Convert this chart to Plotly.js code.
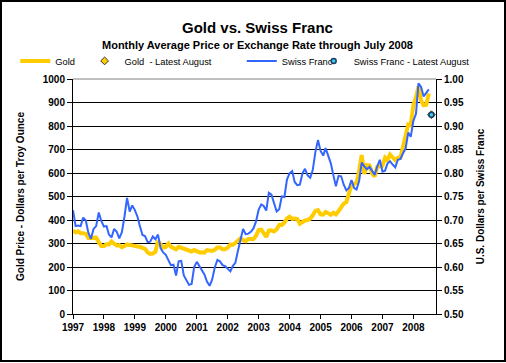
<!DOCTYPE html>
<html>
<head>
<meta charset="utf-8">
<script src="https://cdn.plot.ly/plotly-3.0.1.min.js"></script>
<style>
html,body{margin:0;padding:0;background:#fff;}
#wrap{position:relative;width:506px;height:363px;}
#chart{width:506px;height:363px;}
#frame{position:absolute;left:0;top:0;width:506px;height:362px;box-sizing:border-box;border:2px solid #000;pointer-events:none;}
</style>
</head>
<body>
<div id="wrap"><div id="chart"></div><div id="frame"></div></div>
<script>
// Monthly average gold price, USD per troy ounce, Jan 1997 - Jul 2008
const gold1997 = [355,347,352,344,344,341,324,324,323,325,306,289];
const gold1998 = [289,297,296,308,299,292,293,284,289,296,294,291];
const gold1999 = [287,287,286,282,277,262,256,257,265,311,293,283];
const gold2000 = [285,300,286,280,275,286,282,275,273,270,266,272];
const gold2001 = [266,262,263,261,272,270,268,273,283,283,276,276];
const gold2002 = [282,296,294,302,314,322,314,310,319,317,319,333];
const gold2003 = [357,359,341,328,355,356,351,360,379,379,389,407];
const gold2004 = [414,405,406,404,384,392,398,400,406,420,439,442];
const gold2005 = [424,423,434,429,422,431,424,438,457,470,476,510];
const gold2006 = [549,555,557,610,676,596,633,632,598,585,627,629];
const gold2007 = [631,665,655,679,667,655,665,665,712,754,806,803];
const gold2008 = [889,922,968,909,888,890,939];

// Monthly average exchange rate, USD per Swiss franc
const chf1997 = [0.721,0.687,0.688,0.687,0.705,0.699,0.673,0.660,0.681,0.687,0.716,0.698];
const chf1998 = [0.686,0.687,0.669,0.663,0.681,0.675,0.661,0.674,0.708,0.747,0.718,0.731];
const chf1999 = [0.721,0.707,0.687,0.668,0.666,0.653,0.654,0.665,0.659,0.669,0.640,0.631];
const chf2000 = [0.626,0.614,0.604,0.605,0.582,0.612,0.613,0.582,0.570,0.562,0.564,0.600];
const chf2001 = [0.611,0.602,0.594,0.584,0.569,0.560,0.573,0.599,0.615,0.612,0.604,0.602];
const chf2002 = [0.596,0.591,0.602,0.609,0.634,0.656,0.681,0.670,0.671,0.675,0.682,0.697];
const chf2003 = [0.722,0.733,0.730,0.720,0.758,0.754,0.734,0.718,0.723,0.750,0.749,0.786];
const chf2004 = [0.799,0.804,0.781,0.774,0.775,0.799,0.809,0.795,0.790,0.807,0.845,0.870];
const chf2005 = [0.847,0.837,0.853,0.835,0.821,0.795,0.772,0.794,0.793,0.775,0.763,0.768];
const chf2006 = [0.785,0.768,0.765,0.783,0.822,0.814,0.808,0.813,0.803,0.796,0.814,0.828];
const chf2007 = [0.803,0.805,0.820,0.825,0.818,0.812,0.828,0.830,0.842,0.852,0.886,0.877];
const chf2008 = [0.911,0.926,0.991,0.983,0.963,0.970,0.978];

// Latest August 2008 values
const latestDate = ['2008-08-01'];
const goldLatest = [848];
const chfLatest = [0.924];

const firstYear = 1997;

const gold = [].concat(gold1997,gold1998,gold1999,gold2000,gold2001,gold2002,gold2003,gold2004,gold2005,gold2006,gold2007,gold2008);
const chf = [].concat(chf1997,chf1998,chf1999,chf2000,chf2001,chf2002,chf2003,chf2004,chf2005,chf2006,chf2007,chf2008);
const months = gold.map((v,i)=>{
  const y = firstYear + Math.floor(i/12);
  const m = (i%12)+1;
  return y + '-' + (m<10?'0':'') + m + '-01';
});

const FONT = 'Liberation Sans, Arial, sans-serif';

const traces = [
  {x: months, y: gold, type:'scatter', mode:'lines', name:'Gold',
   line:{color:'#FFCC00', width:4}, yaxis:'y', legend:'legend', hoverinfo:'skip'},
  {x: latestDate, y: goldLatest, type:'scatter', mode:'markers', name:'Gold  - Latest August',
   marker:{symbol:'diamond', size:6, color:'#FFCC00', line:{color:'#333333', width:1}},
   yaxis:'y', legend:'legend2', hoverinfo:'skip'},
  {x: months, y: chf, type:'scatter', mode:'lines', name:'Swiss Franc',
   line:{color:'#3366FF', width:2}, yaxis:'y2', legend:'legend3', hoverinfo:'skip'},
  {x: latestDate, y: chfLatest, type:'scatter', mode:'markers', name:'Swiss Franc - Latest August',
   marker:{symbol:'circle', size:5, color:'#33CCFF', line:{color:'#1F3F5F', width:1.5}},
   yaxis:'y2', legend:'legend4', hoverinfo:'skip'}
];

const legFont = {family: FONT, size: 9.3, color:'#000'};
const legBase = {orientation:'h', yref:'paper', y:1.077, yanchor:'middle', xanchor:'left',
  bgcolor:'rgba(0,0,0,0)', borderwidth:0, font:legFont, itemwidth:30, tracegroupgap:0};

const layout = {
  width:506, height:363,
  margin:{l:73, r:70, t:79, b:49, pad:0},
  paper_bgcolor:'#fff', plot_bgcolor:'#fff',
  showlegend:true,
  font:{family:FONT, color:'#000'},
  xaxis:{type:'date', range:['1997-01-01','2008-09-24'], tick0:'1997-01-01', dtick:'M12',
    tickformat:'%Y', ticks:'outside', ticklen:4, tickcolor:'#000', tickwidth:1,
    showline:true, linecolor:'#000', linewidth:1, showgrid:false, zeroline:false,
    tickfont:{family:FONT, size:10, weight:'bold', color:'#000'}, fixedrange:true},
  yaxis:{range:[0,1000], dtick:100, ticks:'outside', ticklen:5, tickcolor:'#000',
    showline:true, linecolor:'#000', linewidth:1, showgrid:true, gridcolor:'#000', gridwidth:1,
    zeroline:false, tickfont:{family:FONT, size:10, weight:'bold', color:'#000'},
    title:{text:'Gold Price - Dollars per Troy Ounce', standoff:16,
      font:{family:FONT, size:10, weight:'bold', color:'#000'}}, automargin:false, fixedrange:true},
  yaxis2:{range:[0.5,1.0], dtick:0.05, tickformat:'.2f', overlaying:'y', side:'right',
    ticks:'outside', ticklen:5, tickcolor:'#000', showline:true, linecolor:'#000', linewidth:1,
    showgrid:false, zeroline:false, tickfont:{family:FONT, size:10, weight:'bold', color:'#000'},
    title:{text:'U.S. Dollars per Swiss Franc', standoff:14,
      font:{family:FONT, size:10, weight:'bold', color:'#000'}}, automargin:false, fixedrange:true},
  legend: Object.assign({}, legBase, {x:-0.159}),
  legend2: Object.assign({}, legBase, {x:0.032}),
  legend3: Object.assign({}, legBase, {x:0.465}),
  legend4: Object.assign({}, legBase, {x:0.663}),
  shapes:[{type:'line', xref:'paper', yref:'paper', x0:0, x1:1, y0:1, y1:1,
    line:{color:'#808080', width:1}, layer:'above'}],
  annotations:[
    {text:'Gold vs. Swiss Franc', xref:'paper', yref:'paper', x:0.507, y:1.221,
     xanchor:'center', yanchor:'middle', showarrow:false,
     font:{family:FONT, size:15, weight:'bold', color:'#000'}},
    {text:'Monthly Average Price or Exchange Rate through July 2008', xref:'paper', yref:'paper',
     x:0.507, y:1.145, xanchor:'center', yanchor:'middle', showarrow:false,
     font:{family:FONT, size:11, weight:'bold', color:'#000'}}
  ]
};

Plotly.newPlot('chart', traces, layout, {displayModeBar:false, staticPlot:true});
</script>
</body>
</html>
